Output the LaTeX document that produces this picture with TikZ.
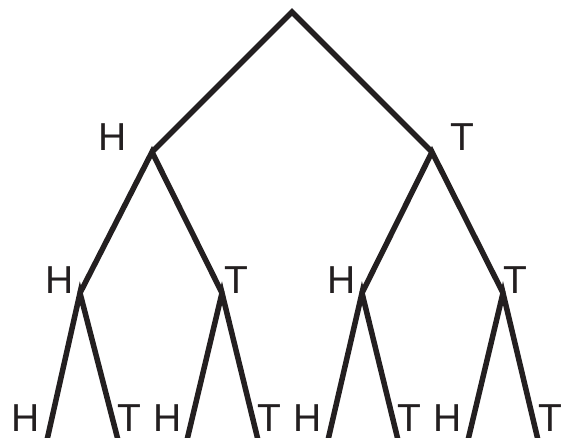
\documentclass[tikz,border=0pt]{standalone}
\usepackage{fontspec}
\setmainfont{Liberation Sans}
\definecolor{ink}{HTML}{231F20}
\begin{document}
\begin{tikzpicture}[x=1pt,y=-1pt,
  edge/.style={line width=5.5pt,draw=ink,line join=miter,line cap=butt},
  lbl/.style={font=\fontsize{39}{39}\selectfont,text=ink,inner sep=0pt,anchor=center}]
\useasboundingbox (0,0) rectangle (565,437);
% tree points
\coordinate (r) at (292,12);
\coordinate (a) at (152,152);
\coordinate (b) at (432,152);
\coordinate (aa) at (80,293);
\coordinate (ab) at (222,293);
\coordinate (ba) at (362,293);
\coordinate (bb) at (503,293);
\coordinate (l1) at (47,440);
\coordinate (l2) at (118,440);
\coordinate (l3) at (187,440);
\coordinate (l4) at (258,440);
\coordinate (l5) at (328,440);
\coordinate (l6) at (398,440);
\coordinate (l7) at (468,440);
\coordinate (l8) at (538,440);
% edges
\draw[edge] (a) -- (r) -- (b);
\draw[edge] (aa) -- (a) -- (ab);
\draw[edge] (ba) -- (b) -- (bb);
\draw[edge] (l1) -- (aa) -- (l2);
\draw[edge] (l3) -- (ab) -- (l4);
\draw[edge] (l5) -- (ba) -- (l6);
\draw[edge] (l7) -- (bb) -- (l8);
% labels
\node[lbl] (ta) at (113,137) {H};
\node[lbl] (tb) at (462,137) {T};
\node[lbl] (taa) at (60,280) {H};
\node[lbl] (tab) at (236,280) {T};
\node[lbl] (tba) at (342,280) {H};
\node[lbl] (tbb) at (515,280) {T};
\node[lbl] (t1) at (26,418) {H};
\node[lbl] (t2) at (129,418) {T};
\node[lbl] (t3) at (168,418) {H};
\node[lbl] (t4) at (269,418) {T};
\node[lbl] (t5) at (308,418) {H};
\node[lbl] (t6) at (409,418) {T};
\node[lbl] (t7) at (448,418) {H};
\node[lbl] (t8) at (550,418) {T};
\end{tikzpicture}
\end{document}
